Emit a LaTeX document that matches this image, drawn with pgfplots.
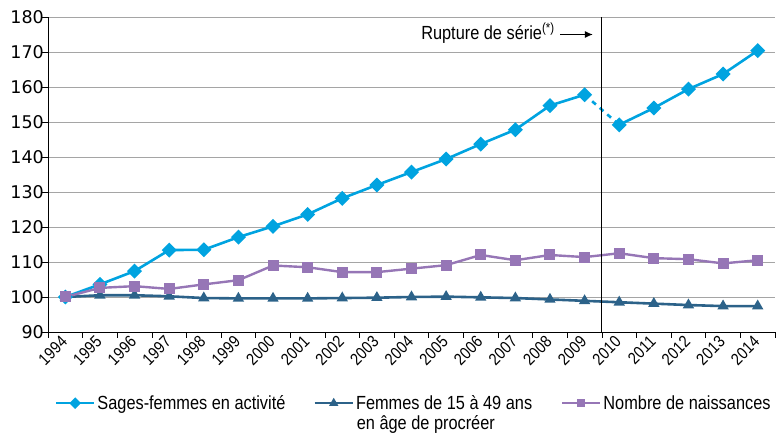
\documentclass[border=0pt]{standalone}
\usepackage{fontspec}
\setmainfont{Liberation Sans}[FakeStretch=0.86]
\newfontfamily\numfont{DejaVu Sans}
\usepackage{pgfplots}
\pgfplotsset{compat=1.18}
\usetikzlibrary{arrows.meta}
\definecolor{sfblue}{RGB}{0,163,224}
\definecolor{fdark}{RGB}{44,98,137}
\definecolor{npurple}{RGB}{150,118,182}
\definecolor{gridgray}{RGB}{165,165,165}
\newcommand\cf{\fontsize{19}{22}\selectfont}
\newcommand\yf{\fontsize{16.8}{19}\selectfont}

\begin{document}
\begin{tikzpicture}
\useasboundingbox (-48pt,-103pt) rectangle (729pt,332pt);
\begin{axis}[
  at={(0,0)}, anchor=south west,
  scale only axis, width=727pt, height=315pt,
  xmin=-0.5, xmax=20.5, ymin=90, ymax=180,
  axis x line*=bottom, axis y line*=left,
  axis line style={black, line width=0.8pt},
  xtick={0,...,20},
  xticklabels={1994,1995,1996,1997,1998,1999,2000,2001,2002,2003,2004,2005,2006,2007,2008,2009,2010,2011,2012,2013,2014},
  major x tick style={draw=none},
  minor xtick={-0.5,0.5,...,20.5},
  ytick={90,100,...,180},
  ymajorgrids, grid style={gridgray, line width=0.7pt},
  tick align=outside, major tick length=6pt, minor tick length=6pt,
  tick style={black, line width=0.7pt},
  x tick label style={rotate=45, anchor=east, font=\yf, inner sep=1.5pt},
  y tick label style={font=\numfont\fontsize{17.5}{20}\selectfont, inner sep=1pt, xshift=3pt},
  /pgf/number format/assume math mode=true,
  /pgf/number format/1000 sep={},
  legend columns=3,
  legend cell align=left,
  legend style={draw=none, fill=none, font=\cf, at={(axis description cs:0.005,-0.188)}, anchor=north west,
    /tikz/every even column/.append style={column sep=0pt}},
  legend image code/.code={\draw[mark repeat=2,mark phase=2,#1,mark size=2.8pt] plot coordinates {(0pt,0pt) (19pt,0pt) (38pt,0pt)};},
]
\addplot[sfblue, line width=2.6pt, mark=square*, mark size=4pt, mark options={rotate=45, solid}] coordinates {
  (0,100) (1,103.6) (2,107.4) (3,113.4) (4,113.5) (5,117.1) (6,120.2) (7,123.6)
  (8,128.2) (9,132.0) (10,135.7) (11,139.4) (12,143.7) (13,147.8) (14,154.7) (15,157.8)};
\addlegendentry{\makebox[214pt][l]{Sages-femmes en activité}}
\addplot[fdark, line width=2.6pt, mark=triangle*, mark size=4pt] coordinates {
  (0,100) (1,100.5) (2,100.5) (3,100.2) (4,99.7) (5,99.6) (6,99.6) (7,99.6) (8,99.7) (9,99.8)
  (10,100.0) (11,100.1) (12,99.9) (13,99.7) (14,99.3) (15,98.9) (16,98.5) (17,98.1) (18,97.7) (19,97.4) (20,97.4)};
\addlegendentry{\makebox[203pt][l]{Femmes de 15 à 49 ans}}
\addplot[npurple, line width=2.4pt, mark=square*, mark size=4.3pt] coordinates {
  (0,100) (1,102.6) (2,103.1) (3,102.3) (4,103.6) (5,104.8) (6,109.0) (7,108.5) (8,107.1) (9,107.1)
  (10,108.1) (11,109.1) (12,112.0) (13,110.5) (14,112.0) (15,111.4) (16,112.5) (17,111.1) (18,110.8) (19,109.6) (20,110.5)};
\addlegendentry{Nombre de naissances}
\addplot[sfblue, line width=2.6pt, dash pattern=on 5pt off 5pt, forget plot] coordinates {(15,157.8) (16,149.2)};
\addplot[sfblue, line width=2.6pt, mark=square*, mark size=4pt, mark options={rotate=45, solid}, forget plot] coordinates {
  (16,149.2) (17,154.0) (18,159.4) (19,163.7) (20,170.4)};
\draw[black, line width=0.9pt] (axis cs:15.5,90) -- (axis cs:15.5,180);
\node[anchor=east, font=\cf, inner sep=0pt] at (axis cs:14.14,175.4) {Rupture de série\textsuperscript{(*)}};
\draw[black, line width=1.3pt, -{Latex[length=8pt,width=7pt]}] (axis cs:14.29,175) -- (axis cs:15.24,175);
\coordinate (line2) at (axis description cs:0.4245,-0.308);
\end{axis}
\node[anchor=base west, font=\cf, inner sep=0pt] at (line2) {en âge de procréer};
\end{tikzpicture}
\end{document}
